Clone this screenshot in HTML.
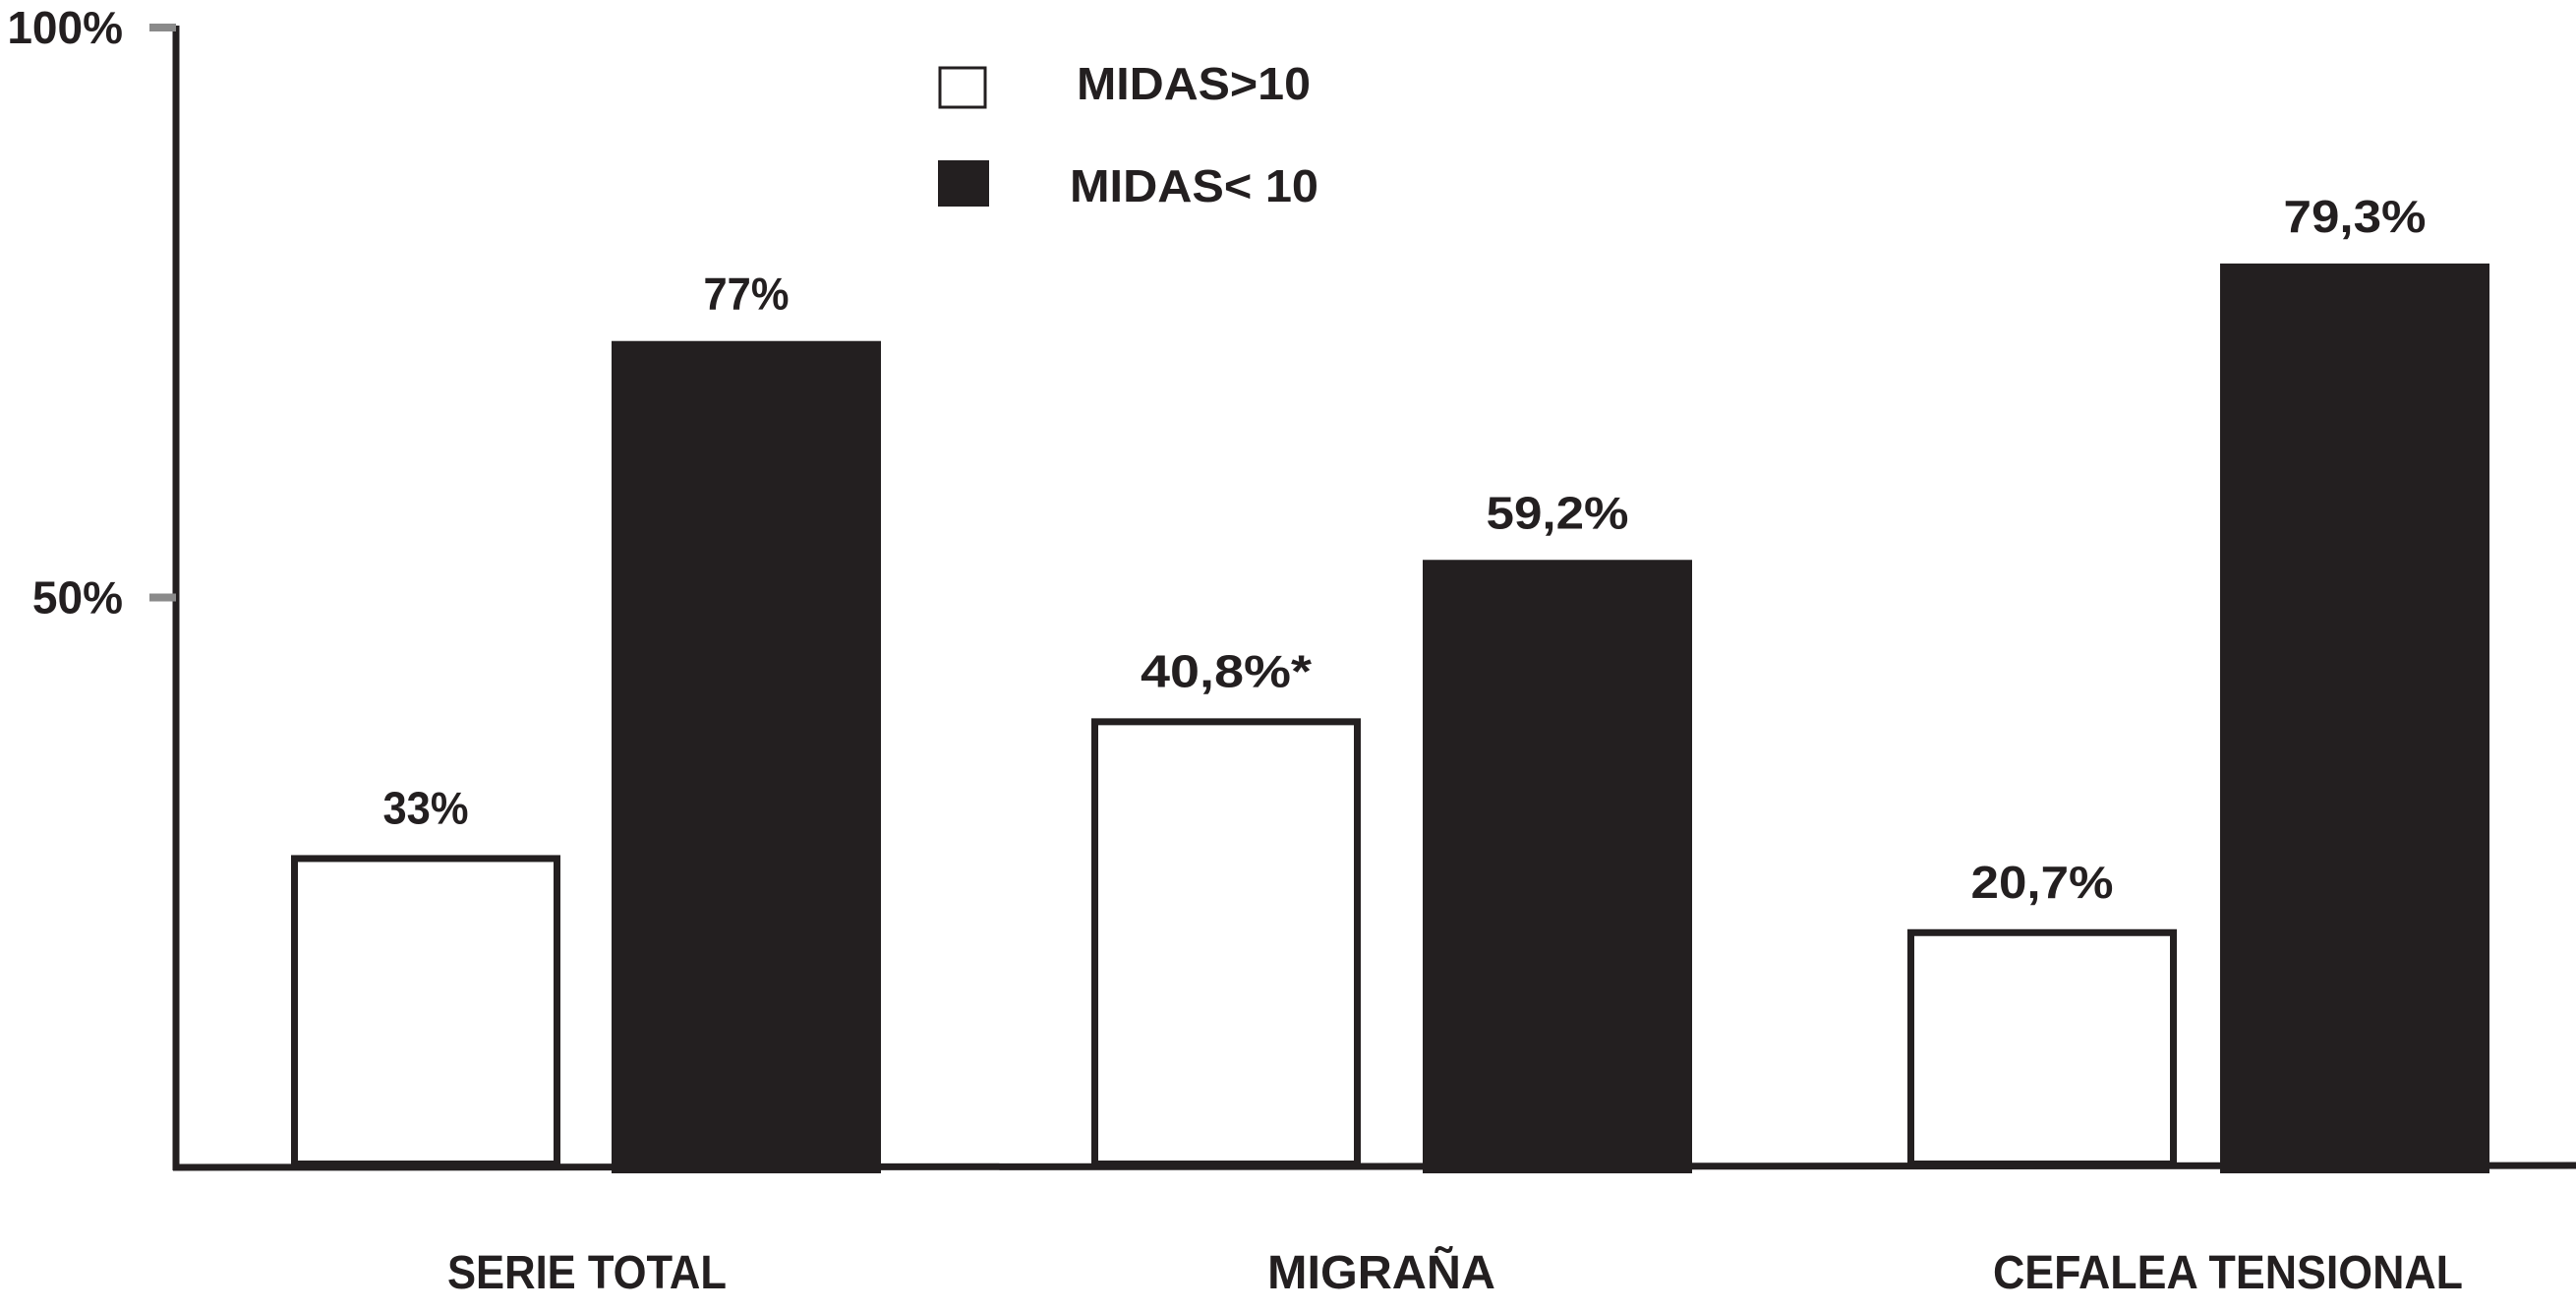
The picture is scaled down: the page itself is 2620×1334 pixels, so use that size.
<!DOCTYPE html>
<html><head><meta charset="utf-8"><style>
html,body{margin:0;padding:0;background:#fff;}
svg{display:block;}
text{font-family:"Liberation Sans Narrow","Liberation Sans",sans-serif;font-weight:bold;fill:#231f20;}
</style></head><body>
<svg id="chart" width="2620" height="1334" viewBox="0 0 2620 1334" xmlns="http://www.w3.org/2000/svg">
<g id="axes"></g><g id="bars"></g><g id="labels"></g>
<g>
<rect x="956" y="69" width="46" height="40" fill="#fff" stroke="#231f20" stroke-width="3"/>
<text x="1095" y="101" font-size="46" textLength="238" lengthAdjust="spacingAndGlyphs">MIDAS&gt;10</text>
<rect x="954" y="163" width="52" height="47" fill="#231f20"/>
<text x="1088" y="205" font-size="46" textLength="253" lengthAdjust="spacingAndGlyphs">MIDAS&lt; 10</text>
</g>
</svg>
<script>
const categories = ["SERIE TOTAL", "MIGRAÑA", "CEFALEA TENSIONAL"];
const midasHigh = [27.4, 39.4, 20.9];
const midasLow = [72.5, 53.3, 79.3];
const midasHighLabels = ["33%", "40,8%*", "20,7%"];
const midasLowLabels = ["77%", "59,2%", "79,3%"];
const yTicks = [50, 100];
const yTickLabels = ["50%", "100%"];

const NS = "http://www.w3.org/2000/svg";
const X0 = 179, BASE = 1187, TOP = 28;
const y = v => BASE - v / 100 * (BASE - TOP);
const highStart = [296, 1110, 1940];
const lowStart = [622, 1447, 2258];
const catCenter = [597, 1405, 2266];
const catWidth = [284, 232, 478];
const barW = 274;
function mk(tag, attrs, parent, text) {
  const e = document.createElementNS(NS, tag);
  for (const k in attrs) e.setAttribute(k, attrs[k]);
  if (text !== undefined) e.textContent = text;
  document.getElementById(parent).appendChild(e);
  return e;
}
let a = mk("line", {x1: X0, y1: TOP - 2, x2: X0, y2: BASE + 3, stroke: "#231f20", "stroke-width": 7}, "axes");


a = mk("line", {x1: X0 - 3, y1: BASE, x2: 2620, y2: BASE - 2, stroke: "#231f20", "stroke-width": 7}, "axes");


yTicks.forEach((t, i) => {
  const tk = mk("line", {x1: 152, y1: y(t), x2: X0, y2: y(t), stroke: "#8a8a8a", "stroke-width": 8}, "axes");
  
  
  const tl = mk("text", {x: 125, y: y(t) + 16, "font-size": 46, "text-anchor": "end"}, "axes", yTickLabels[i]);
  
  
});
categories.forEach((c, i) => {
  const xh = highStart[i], xl = lowStart[i];
  const yh = y(midasHigh[i]), yl = y(midasLow[i]);
  const bh = mk("rect", {x: xh + 3.5, y: yh + 3.5, width: barW - 7, height: BASE - yh - 7, fill: "#fff", stroke: "#231f20", "stroke-width": 7}, "bars");
  
  
  const bl = mk("rect", {x: xl, y: yl, width: barW, height: BASE - yl + 6, fill: "#231f20"}, "bars");
  
  
  const s1 = midasHighLabels[i], s2 = midasLowLabels[i];
  const t1 = mk("text", {x: xh + barW / 2, y: yh - 32, "font-size": 46, "text-anchor": "middle", textLength: 29 * s1.length, lengthAdjust: "spacingAndGlyphs"}, "labels", s1);
  
  
  const t2 = mk("text", {x: xl + barW / 2, y: yl - 32, "font-size": 46, "text-anchor": "middle", textLength: 29 * s2.length, lengthAdjust: "spacingAndGlyphs"}, "labels", s2);
  
  
  const cl = mk("text", {x: catCenter[i], y: 1310, "font-size": 48, "text-anchor": "middle", textLength: catWidth[i], lengthAdjust: "spacingAndGlyphs"}, "labels", c);
  
  
});
</script>
</body></html>
